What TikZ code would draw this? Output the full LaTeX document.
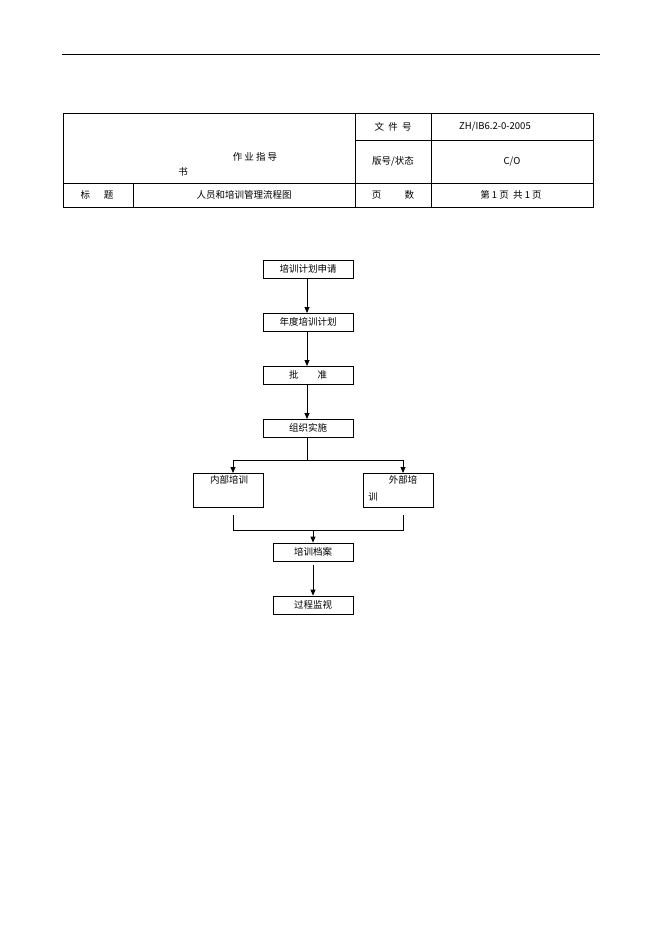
\documentclass[tikz,border=0pt]{standalone}
\usepackage{fontspec}
\setmainfont{Liberation Sans}
\newfontfamily\cjk{Noto Sans CJK SC}
\usetikzlibrary{arrows.meta}
\begin{document}
\begin{tikzpicture}[x=1pt,y=-1pt,font=\cjk\fontsize{9.5}{11}\selectfont,
  box/.style={draw,line width=0.8pt,inner sep=0pt},
  arr/.style={line width=0.8pt,-{Triangle[length=6pt,width=5pt]}},
  ln/.style={line width=0.8pt}]
\useasboundingbox (0,0) rectangle (662,936);
\draw[line width=0.6pt] (62,54) -- (600,54);
% table
\draw[line width=0.8pt] (63,113) rectangle (593,207);
\draw[line width=0.8pt] (355,113) -- (355,207) (431,113) -- (431,207) (133,183) -- (133,207)
  (355,140) -- (593,140) (63,183) -- (593,183);
\node (t1) at (255,157) {作\ 业\ 指\ 导};
\node (t2) at (183,172) {书};
\node (t3) at (393,127) {文\ \ 件\ \ 号};
\node (t4) at (495,127) {ZH/IB6.2-0-2005};
\node (t5) at (393,161) {版号/状态};
\node (t6) at (512,162) {C/O};
\node (t7) at (97,195) {标\quad\ \ 题};
\node (t8) at (244,195) {人员和培训管理流程图};
\node (t9) at (393,195) {页\qquad\ \ 数};
\node (t10) at (511,195) {第\ 1\ 页\ \ 共\ 1\ 页};
% flow
\node[box,minimum width=90pt,minimum height=18pt] (b1) at (308,269) {培训计划申请};
\node[box,minimum width=90pt,minimum height=18pt] (b2) at (308,322) {年度培训计划};
\node[box,minimum width=90pt,minimum height=18pt] (b3) at (308,375) {批\qquad 准};
\node[box,minimum width=90pt,minimum height=18pt] (b4) at (308,428) {组织实施};
\node[box,minimum width=70pt,minimum height=34pt] (b5) at (228,490) {};
\node (b5t) at (229,480) {内部培训};
\node[box,minimum width=70pt,minimum height=34pt] (b6) at (398,490) {};
\node (b6t) at (403,480) {外部培};
\node (b6u) at (373,497) {训};
\node[box,minimum width=80pt,minimum height=18pt] (b7) at (313,552) {培训档案};
\node[box,minimum width=80pt,minimum height=18pt] (b8) at (313,605) {过程监视};
\draw[arr] (b1.south -| 307,0) -- (307,313);
\draw[arr] (b2.south -| 307,0) -- (307,366);
\draw[arr] (b3.south -| 307,0) -- (307,419);
\coordinate (j1) at (307,460);
\coordinate (jl) at (233,460);
\coordinate (jr) at (403,460);
\draw[ln] (307,437) -- (j1);
\draw[ln] (jl) -- (jr);
\draw[arr] (jl) -- (233,473);
\draw[arr] (jr) -- (403,473);
\coordinate (kl) at (233,530);
\coordinate (kr) at (403,530);
\draw[ln] (233,515) -- (kl) -- (kr) -- (403,515);
\draw[arr] (313,530) -- (b7.north);
\draw[arr] (313,565) -- (b8.north);
\end{tikzpicture}
\end{document}
